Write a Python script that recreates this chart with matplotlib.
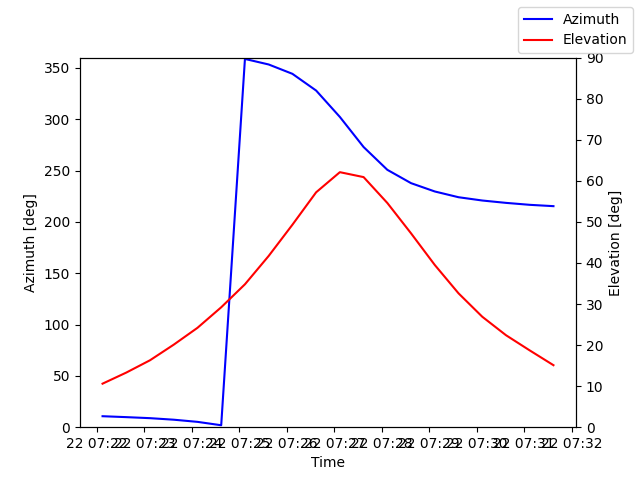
# Азимут і висота над горизонтом під час проходу
import matplotlib
matplotlib.use('Agg')
import matplotlib.pyplot as plt
import pandas as pd

# Час вимірювань (крок 30 с)
times = pd.date_range('2023-03-22 07:22:07', periods=20, freq='30s')

# Азимут, град
azimuth = [10.7, 9.8, 8.8, 7.3, 5.2, 1.9, 358.7, 353.3, 344.2, 327.9,
           302.2, 272.9, 250.7, 237.7, 229.6, 224.0, 220.8, 218.5, 216.6, 215.3]

# Висота, град
elevation = [10.6, 13.3, 16.3, 20.1, 24.2, 29.2, 34.8, 41.7, 49.3, 57.2,
             62.1, 60.9, 54.6, 47.2, 39.5, 32.6, 26.9, 22.4, 18.7, 15.1]

fig, ax1 = plt.subplots(figsize=(6.4, 4.8), dpi=100)
ax1.plot(times, azimuth, 'b-', label='Azimuth')
ax1.set_xlabel('Time')
ax1.set_ylabel('Azimuth [deg]')
ax1.set_ylim(0, 360)

ax2 = ax1.twinx()
ax2.plot(times, elevation, 'r-', label='Elevation')
ax2.set_ylabel('Elevation [deg]')
ax2.set_ylim(0, 90)

fig.legend()
fig.savefig('out.png')
